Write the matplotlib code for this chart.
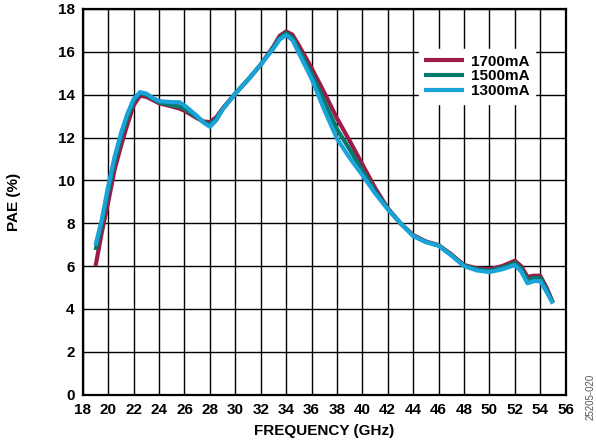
import matplotlib
matplotlib.use("Agg")
import matplotlib.pyplot as plt

plt.rcParams['font.family'] = ['Liberation Sans', 'DejaVu Sans']

freq_ghz = [19.0, 19.5, 20.0, 20.5, 21.0, 21.5, 22.0, 22.5, 23.0, 23.5, 24.0, 25.0, 25.6,
            26.0, 27.0, 27.5, 28.0, 28.5, 29.0, 30.0, 31.0, 32.0, 33.0, 33.5, 34.0, 34.5,
            35.0, 36.0, 37.0, 38.0, 39.0, 40.0, 41.0, 42.0, 43.0, 44.0, 45.0, 46.0, 47.0,
            48.0, 49.0, 50.0, 51.0, 52.0, 52.5, 53.0, 53.5, 54.0, 54.5, 55.0]

pae_1700 = [6.0, 7.6, 9.0, 10.5, 11.6, 12.6, 13.5, 13.95, 13.9, 13.75, 13.6, 13.45, 13.35,
            13.25, 12.9, 12.75, 12.72, 12.95, 13.35, 14.05, 14.7, 15.4, 16.25, 16.75, 16.95, 16.8,
            16.3, 15.25, 14.1, 12.9, 11.85, 10.75, 9.65, 8.7, 8.0, 7.45, 7.15, 6.98, 6.55,
            6.05, 5.9, 5.85, 6.0, 6.25, 6.0, 5.5, 5.55, 5.55, 5.0, 4.3]

pae_1500 = [6.75, 8.0, 9.5, 10.9, 12.0, 12.95, 13.7, 14.08, 14.0, 13.82, 13.65, 13.5, 13.45,
            13.35, 12.95, 12.72, 12.6, 12.88, 13.33, 14.05, 14.7, 15.4, 16.2, 16.65, 16.87, 16.65,
            16.1, 15.0, 13.7, 12.4, 11.45, 10.45, 9.5, 8.68, 8.0, 7.42, 7.13, 6.96, 6.52,
            6.02, 5.85, 5.78, 5.92, 6.15, 5.88, 5.35, 5.45, 5.45, 4.9, 4.28]

pae_1300 = [6.97, 8.2, 9.75, 11.1, 12.2, 13.1, 13.8, 14.12, 14.05, 13.85, 13.7, 13.65, 13.65,
            13.5, 13.0, 12.7, 12.5, 12.8, 13.3, 14.05, 14.7, 15.4, 16.15, 16.58, 16.78, 16.55,
            15.95, 14.75, 13.3, 11.95, 11.05, 10.25, 9.4, 8.65, 8.0, 7.4, 7.12, 6.95, 6.5,
            6.0, 5.8, 5.72, 5.85, 6.05, 5.75, 5.2, 5.3, 5.3, 4.8, 4.25]

series = [("1700mA", pae_1700, "#9E1A4A"),
          ("1500mA", pae_1500, "#007A6C"),
          ("1300mA", pae_1300, "#1AA3D9")]

x_ticks = list(range(18, 57, 2))
y_ticks = list(range(0, 19, 2))

fig = plt.figure(figsize=(5.96, 4.48), dpi=100)
ax = fig.add_axes([0.139, 0.119, 0.810, 0.861])

for label, vals, col in series:
    ax.plot(freq_ghz, vals, color=col, lw=3.0, label=label,
            solid_capstyle='butt', solid_joinstyle='round')

ax.set_xlim(18, 56)
ax.set_ylim(0, 18)
ax.set_xticks(x_ticks)
ax.set_yticks(y_ticks)
ax.grid(True, color='black', lw=1.0)
ax.set_axisbelow(True)
ax.tick_params(length=0, labelsize=11, pad=6)
for t in ax.get_xticklabels() + ax.get_yticklabels():
    t.set_fontweight('bold')
for s in ax.spines.values():
    s.set_linewidth(1.6)

ax.set_xlabel("FREQUENCY (GHz)", fontsize=11, fontweight='bold', labelpad=5)
ax.set_ylabel("PAE (%)", fontsize=11, fontweight='bold', labelpad=26)

leg = ax.legend(loc='upper left', bbox_to_anchor=(0.68, 0.915), frameon=True,
                fancybox=False, edgecolor='white', framealpha=1.0,
                prop={'weight': 'bold', 'size': 11}, handlelength=2.6,
                handletextpad=0.5, labelspacing=0.05, borderpad=0.35)
for line in leg.get_lines():
    line.set_linewidth(3.0)

fig.text(0.982, 0.115, "25205-020", rotation=90, fontsize=7, color='#555555',
         ha='left', va='center')

fig.savefig("out.png", dpi=100)
